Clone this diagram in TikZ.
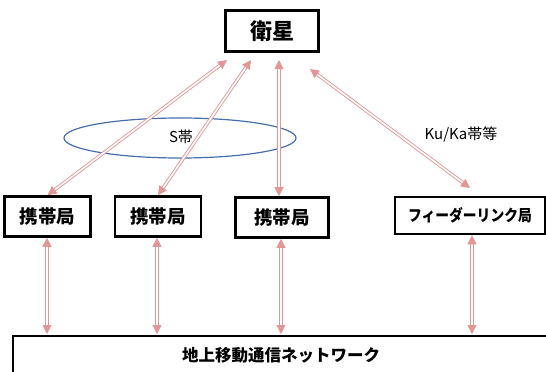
\documentclass[tikz,border=0pt]{standalone}
\usepackage{fontspec}
\setmainfont{Noto Sans CJK JP}
\usetikzlibrary{arrows.meta}
\definecolor{arrowpink}{RGB}{226,150,150}
\definecolor{ellblue}{RGB}{70,110,170}
\tikzset{
  box/.style={draw=black, line width=2.6pt, fill=white, inner sep=0pt, align=center},
  link/.style={draw=arrowpink, double=white, line width=0.9pt, double distance=1.6pt,
    {Triangle[length=9pt,width=9pt,fill=arrowpink,color=arrowpink]}-{Triangle[length=9pt,width=9pt,fill=arrowpink,color=arrowpink]}},
}
\begin{document}
\begin{tikzpicture}[x=1pt,y=-1pt]
\useasboundingbox (0,0) rectangle (546,372);
\clip (0,0) rectangle (546,372);
% satellite
\node[box, minimum width=93pt, minimum height=41pt, font=\fontsize{22}{22}\selectfont\bfseries] (sat) at (272,31) {衛星};
% stations
\node[box, minimum width=86pt, minimum height=40pt, font=\fontsize{18.5}{18.5}\selectfont\bfseries] (st1) at (47.5,216.5) {携帯局};
\node[box, minimum width=86pt, minimum height=40pt, font=\fontsize{18.5}{18.5}\selectfont\bfseries] (st2) at (158,216.5) {携帯局};
\node[box, minimum width=93pt, minimum height=40pt, font=\fontsize{18.5}{18.5}\selectfont\bfseries] (st3) at (282,217.5) {携帯局};
\node[box, minimum width=150pt, minimum height=37pt, font=\fontsize{16}{16}\selectfont\bfseries] (feed) at (470,215.5) {\scalebox{0.86}[1]{フィーダーリンク局}};
% ground network
\draw[line width=2.6pt] (560,336) -- (13,336) -- (13,390);
\node[font=\fontsize{16.5}{16.5}\selectfont\bfseries] (gnd) at (281,355) {地上移動通信ネットワーク};
% coordinates on ground network top edge
\coordinate (g1) at (47,334);
\coordinate (g2) at (157,334);
\coordinate (g3) at (281,334);
\coordinate (g4) at (472,334);
% satellite-side endpoints
\coordinate (s1) at (227,60);
\coordinate (s2) at (251,60);
\coordinate (s3) at (279,60);
\coordinate (s4) at (310,69);
% ellipse
\draw[ellblue, line width=1.2pt] (180,138) ellipse [x radius=116, y radius=20];
\node[font=\fontsize{15}{15}\selectfont] (sband) at (181,137) {S帯};
\node[font=\fontsize{15}{15}\selectfont] (ku) at (461,135) {Ku/Ka帯等};
% links satellite - stations
\draw[link] (s1) -- (st1.north);
\draw[link] (s2) -- (st2.north);
\draw[link] (s3) -- (st3.north -| s3);
\draw[link] (s4) -- (470,188);
% links stations - ground
\draw[link] (st1.south -| g1) -- (g1);
\draw[link] (st2.south -| g2) -- (g2);
\draw[link] (st3.south -| g3) -- (g3);
\draw[link] (feed.south -| g4) -- (g4);
\end{tikzpicture}
\end{document}
